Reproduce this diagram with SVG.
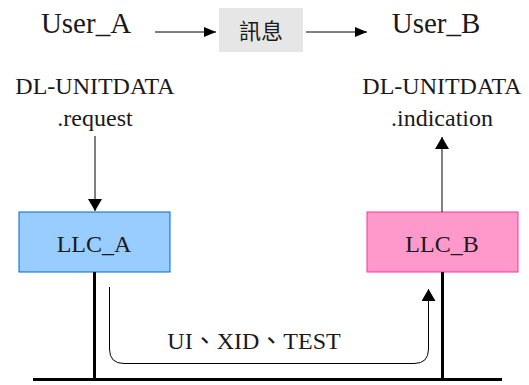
<svg xmlns="http://www.w3.org/2000/svg" width="529" height="385" viewBox="0 0 529 385">
<style>
.t{fill:#1a1a1a;text-anchor:middle}
.big{font-size:29px}
.mid{font-size:24px}
.thin{stroke:#000;stroke-width:1;fill:none}
.thick{stroke:#000;stroke-width:3;fill:none}
</style>
<defs>
<marker id="ah" markerWidth="12" markerHeight="14" refX="12" refY="7" orient="auto" markerUnits="userSpaceOnUse">
<path d="M0,0 L12,7 L0,14 Z" fill="#000"/>
</marker>
<marker id="ahs" markerWidth="12" markerHeight="10" refX="12" refY="5" orient="auto" markerUnits="userSpaceOnUse">
<path d="M0,0 L12,5 L0,10 Z" fill="#000"/>
</marker>
</defs>
<rect width="529" height="385" fill="#fff"/>
<g font-family="'Liberation Serif', 'DejaVu Serif', 'Noto Sans CJK TC', serif">
<g id="userA"><text class="t big" x="86" y="33">User_A</text></g>
<g id="msg"><rect x="219" y="8" width="84" height="44" fill="#e6e6e6"/><text class="t" x="261" y="39" font-family="'Noto Sans CJK TC', sans-serif" font-size="22" fill="#333">訊息</text></g>
<g id="userB"><text class="t big" x="436" y="33">User_B</text></g>
<g id="reqA"><text class="t mid" x="95" y="94">DL-UNITDATA</text><text class="t mid" x="95" y="126">.request</text></g>
<g id="indB"><text class="t mid" x="442" y="94">DL-UNITDATA</text><text class="t mid" x="442" y="126">.indication</text></g>
<g id="llcA"><rect x="19" y="212" width="151" height="60" fill="#99ccff" stroke="#0066cc" stroke-width="1"/><text class="t mid" x="94" y="252">LLC_A</text></g>
<g id="llcB"><rect x="367" y="212" width="151" height="60" fill="#ff99cc" stroke="#ff3399" stroke-width="1"/><text class="t mid" x="442" y="252">LLC_B</text></g>
<g id="connectors">
<line class="thin" x1="155" y1="32" x2="216" y2="32" marker-end="url(#ahs)"/>
<line class="thin" x1="306" y1="32" x2="367" y2="32" marker-end="url(#ahs)"/>
<line class="thin" x1="95" y1="136" x2="95" y2="211" marker-end="url(#ah)"/>
<line class="thin" x1="442" y1="212" x2="442" y2="137" marker-end="url(#ah)"/>
<line class="thick" x1="94.5" y1="272" x2="94.5" y2="380"/>
<line class="thick" x1="442.5" y1="272" x2="442.5" y2="380"/>
<line class="thick" x1="33" y1="379.5" x2="502" y2="379.5"/>
<path class="thin" d="M109.5,287 V349 Q109.5,363.5 124,363.5 H414 Q428.5,363.5 428.5,349 V289" marker-end="url(#ah)"/>
<text class="t mid" x="254" y="349">UI、XID、TEST</text>
</g>
</g>
</svg>
